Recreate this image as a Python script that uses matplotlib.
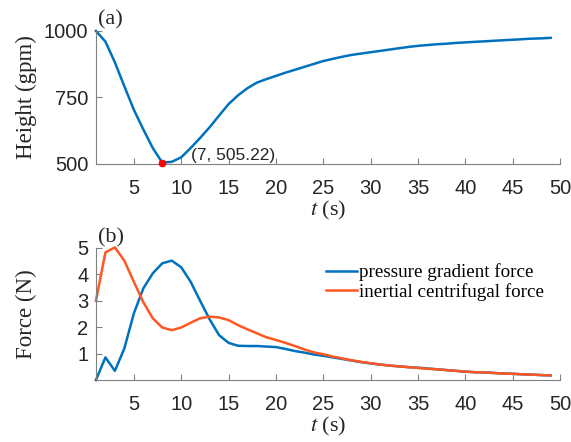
import numpy as np
import matplotlib
matplotlib.use("Agg")
import matplotlib.pyplot as plt

plt.rcParams["mathtext.fontset"] = "stix"

# Time axis (s)
t = np.arange(1, 50)

# Geopotential height (gpm)
height = [1000, 960, 882, 792, 704, 630, 560, 505.22, 508, 525,
          560, 598, 638, 682, 725, 758, 785, 806, 819, 831,
          843, 854, 865, 876, 887, 895, 903, 910, 915, 920,
          925, 930, 935, 940, 944, 947, 950, 952, 955, 957,
          959, 961, 963, 965, 967, 969, 971, 972, 974]

# Forces (N)
pressure_gradient = [0.0, 0.86, 0.35, 1.2, 2.52, 3.47, 4.04, 4.42, 4.52, 4.27,
                     3.72, 3.0, 2.3, 1.70, 1.41, 1.30, 1.29, 1.29, 1.27, 1.25,
                     1.18, 1.10, 1.04, 0.97, 0.92, 0.86, 0.80, 0.74, 0.68, 0.63,
                     0.59, 0.55, 0.52, 0.49, 0.47, 0.44, 0.41, 0.38, 0.35, 0.32,
                     0.30, 0.29, 0.27, 0.25, 0.24, 0.22, 0.21, 0.19, 0.18]
inertial_centrifugal = [3.0, 4.83, 5.02, 4.52, 3.72, 2.95, 2.34, 1.99, 1.89, 1.99,
                        2.17, 2.34, 2.40, 2.37, 2.27, 2.08, 1.92, 1.77, 1.62, 1.52,
                        1.41, 1.29, 1.16, 1.05, 0.98, 0.89, 0.82, 0.75, 0.69, 0.64,
                        0.59, 0.55, 0.52, 0.49, 0.46, 0.43, 0.41, 0.38, 0.35, 0.32,
                        0.30, 0.29, 0.27, 0.25, 0.24, 0.22, 0.21, 0.19, 0.18]

x_ticks = list(range(5, 51, 5))
height_ticks = [500, 750, 1000]
force_ticks = [1, 2, 3, 4, 5]

BLUE = "#0072BD"
ORANGE = "#FF5722"
AXIS_GREY = "#808080"
TEXT = "#262626"
SERIF = "Liberation Serif"
SANS = "Liberation Sans"

fig = plt.figure(figsize=(5.71, 4.42), dpi=100)
ax1 = fig.add_axes([0.168, 0.629, 0.813, 0.301])
ax2 = fig.add_axes([0.168, 0.140, 0.813, 0.299])


def style(ax, ylabel):
    for side in ("top", "right"):
        ax.spines[side].set_visible(False)
    for side in ("left", "bottom"):
        ax.spines[side].set_color(AXIS_GREY)
        ax.spines[side].set_linewidth(0.8)
    ax.tick_params(direction="in", length=4, width=0.8, color=AXIS_GREY,
                   labelsize=14.5, labelcolor=TEXT)
    ax.tick_params(axis="x", pad=10.5)
    ax.tick_params(axis="y", pad=5.5)
    for lab in ax.get_xticklabels() + ax.get_yticklabels():
        lab.set_fontfamily(SANS)
    ax.set_xlim(1, 50)
    ax.set_xticks(x_ticks)
    ax.set_xlabel("$t$ (s)", fontfamily=SERIF, fontsize=16, color=TEXT,
                  labelpad=1)
    ax.set_ylabel(ylabel, fontfamily=SERIF, fontsize=16.5, color=TEXT)
    ax.yaxis.set_label_coords(-0.127, 0.5)


# (a) height
ax1.plot(t, height, color=BLUE, lw=1.8, clip_on=False)
i_min = int(np.argmin(height))
ax1.plot(t[i_min], height[i_min], "o", color="red", ms=4.5, clip_on=False,
         zorder=5)
ax1.annotate(f"({i_min}, {height[i_min]:.2f})", (t[i_min], height[i_min]),
             xytext=(21, 5), textcoords="offset points", fontsize=12.5,
             fontfamily=SANS, color=TEXT, va="center", ha="left")
ax1.set_ylim(500, 1000)
ax1.set_yticks(height_ticks)
style(ax1, "Height (gpm)")
ax1.text(0.004, 1.085, "(a)", transform=ax1.transAxes, fontfamily=SERIF,
         fontsize=16, color=TEXT, ha="left", va="center")

# (b) forces
ax2.plot(t, pressure_gradient, color=BLUE, lw=1.8, clip_on=False,
         label="pressure gradient force")
ax2.plot(t, inertial_centrifugal, color=ORANGE, lw=1.8, clip_on=False,
         label="inertial centrifugal force")
ax2.set_ylim(0, 5)
ax2.set_yticks(force_ticks)
style(ax2, "Force (N)")
ax2.text(0.004, 1.075, "(b)", transform=ax2.transAxes, fontfamily=SERIF,
         fontsize=16, color=TEXT, ha="left", va="center")
ax2.legend(loc="upper right", bbox_to_anchor=(0.99, 0.97), frameon=False,
           prop={"family": SERIF, "size": 13.7}, handlelength=1.65,
           handletextpad=0.1, labelspacing=0.1, borderaxespad=0.2)

fig.savefig("out.png", dpi=100)
